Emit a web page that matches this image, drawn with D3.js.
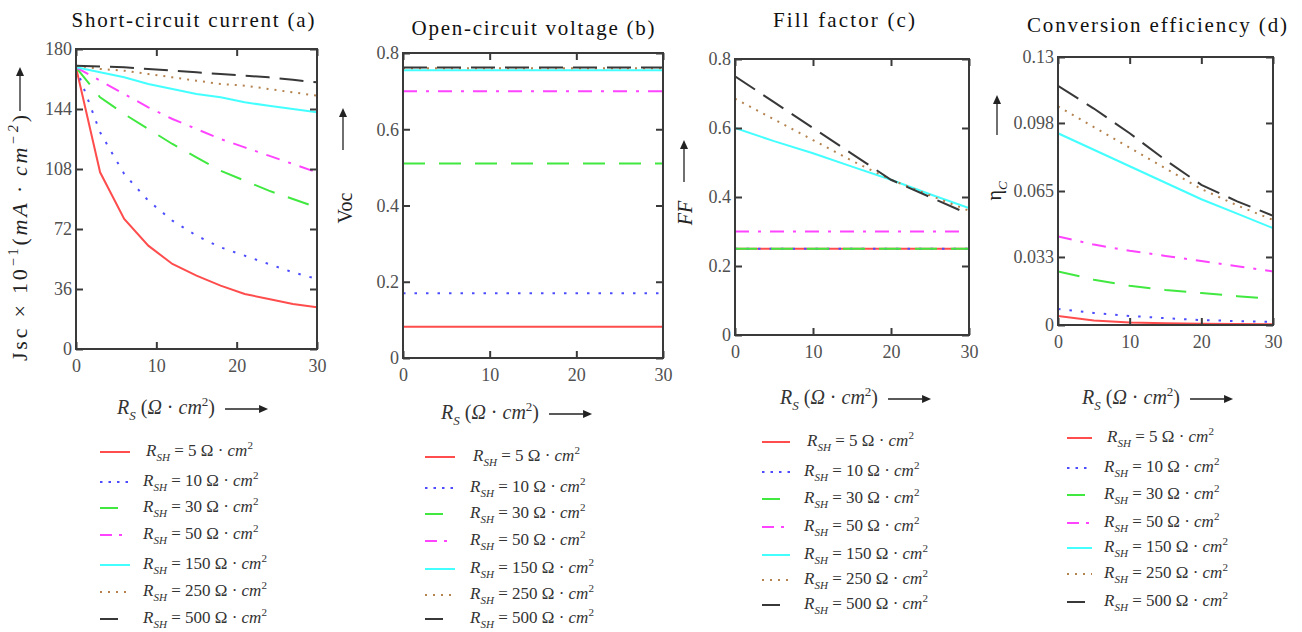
<!DOCTYPE html>
<html>
<head>
<meta charset="utf-8">
<script src="https://cdn.jsdelivr.net/npm/d3@7"></script>
<style>
  body { margin: 0; background: #fff; }
  svg { display: block; }
</style>
</head>
<body>
<svg id="chart" width="1302" height="632"></svg>
<script>
// Data
const rsA = [0, 3, 6, 9, 12, 15, 18, 21, 24, 27, 30];
const rsB = [0, 30];
const rsCD = [0, 5, 10, 15, 20, 25, 30];
const rshValues = ["5", "10", "30", "50", "150", "250", "500"];

// Jsc x 10^-1 (mA/cm2), one array per Rsh
const jscValues = [
  [169, 106, 78, 62, 51, 44, 38, 33, 30, 27, 25],
  [169, 130, 105, 89, 77, 68, 61, 56, 51, 46, 42],
  [169, 151, 141, 132, 123, 115, 107, 101, 95, 90, 85],
  [169, 161, 153, 145, 138, 132, 126, 121, 116, 111, 106],
  [169, 166, 163, 159, 156, 153, 151, 148, 146, 144, 142],
  [170, 168, 167, 165, 163, 161, 159, 158, 156, 154, 152],
  [170, 169.5, 169, 168, 167, 166, 165, 164, 163, 161.5, 160]
];
// Voc (V), constant with Rs
const vocValues = [
  [0.082, 0.082],
  [0.17, 0.17],
  [0.51, 0.51],
  [0.70, 0.70],
  [0.755, 0.755],
  [0.76, 0.76],
  [0.762, 0.762]
];
// Fill factor
const ffValues = [
  [0.25, 0.25, 0.25, 0.25, 0.25, 0.25, 0.25],
  [0.25, 0.25, 0.25, 0.25, 0.25, 0.25, 0.25],
  [0.25, 0.25, 0.25, 0.25, 0.25, 0.25, 0.25],
  [0.30, 0.30, 0.30, 0.30, 0.30, 0.30, 0.30],
  [0.60, 0.562, 0.527, 0.488, 0.45, 0.408, 0.368],
  [0.685, 0.625, 0.565, 0.505, 0.45, 0.405, 0.36],
  [0.75, 0.675, 0.60, 0.525, 0.45, 0.40, 0.35]
];
// Conversion efficiency
const etaValues = [
  [0.0044, 0.0022, 0.0012, 0.0008, 0.0006, 0.0005, 0.0004],
  [0.0078, 0.0058, 0.0044, 0.0033, 0.0024, 0.0019, 0.0015],
  [0.026, 0.022, 0.019, 0.017, 0.0155, 0.014, 0.0126],
  [0.043, 0.039, 0.036, 0.0335, 0.031, 0.0285, 0.026],
  [0.093, 0.085, 0.077, 0.069, 0.061, 0.054, 0.047],
  [0.106, 0.096, 0.086, 0.076, 0.066, 0.058, 0.051],
  [0.116, 0.105, 0.093, 0.080, 0.068, 0.060, 0.053]
];

const xTicks = [0, 10, 20, 30];
const jscTicks = [0, 36, 72, 108, 144, 180];
const vocTicks = [0, 0.2, 0.4, 0.6, 0.8];
const ffTicks = [0, 0.2, 0.4, 0.6, 0.8];
const etaTicks = [0, 0.033, 0.065, 0.098, 0.13];

const titles = ["Short-circuit current (a)", "Open-circuit voltage (b)", "Fill factor (c)", "Conversion efficiency (d)"];

// Styles
const colors = ["#ff4d4d", "#4d4dff", "#40e840", "#ff44ff", "#44ffff", "#b5834f", "#383838"];
const dashes = [null, "2.5,9", "22,14", "14,9,3,9", null, "2,6", "24,10"];
const legendDashes = [null, "2.5,6", "18,30", "12,7,3,30", null, "2,6", "18,30"];

const svg = d3.select("#chart");
const serif = "'Liberation Serif', 'Times New Roman', serif";

// text with italics / sub / sup parts
function mathText(sel, parts, size) {
  let cur = 0;
  parts.forEach(p => {
    const shift = p.sub ? size * 0.3 : p.sup ? -size * 0.4 : 0;
    sel.append("tspan")
      .attr("dy", shift - cur)
      .style("font-style", p.i ? "italic" : "normal")
      .style("font-size", (p.sub || p.sup) ? size * 0.65 + "px" : size + "px")
      .text(p.t);
    cur = shift;
  });
  return sel;
}

function arrow(x1, y1, x2, y2) {
  const a = Math.atan2(y2 - y1, x2 - x1);
  const L = 9, W = 4;
  svg.append("line")
    .attr("x1", x1).attr("y1", y1)
    .attr("x2", x2 - Math.cos(a) * L).attr("y2", y2 - Math.sin(a) * L)
    .attr("stroke", "#222").attr("stroke-width", 1.3);
  const bx = x2 - Math.cos(a) * L, by = y2 - Math.sin(a) * L;
  svg.append("path")
    .attr("d", `M${x2},${y2}L${bx - Math.sin(a) * W},${by + Math.cos(a) * W}L${bx + Math.sin(a) * W},${by - Math.cos(a) * W}Z`)
    .attr("fill", "#222");
}

const rsParts = [
  {t: "R", i: true}, {t: "S", i: true, sub: true}, {t: " ("}, {t: "Ω", i: true},
  {t: "  · "}, {t: "cm", i: true}, {t: "2", sup: true}, {t: ")"}
];

const panels = [
  {rs: rsA, values: jscValues, ticks: jscTicks, tickLabels: ["0", "36", "72", "108", "144", "180"],
   left: 76, right: 317, top: 49, bottom: 349,
   title: {x: 193, y: 27, w: 243},
   xlab: {x: 117, y: 414},
   ylab: {parts: [{t: "Jsc × 10"}, {t: "−1", sup: true}, {t: "("}, {t: "mA · cm", i: true}, {t: "−2", sup: true, i: true}, {t: ")"}],
          x: 27, y: 361, anchor: "start", len: 246, arrowTop: 67},
   legend: {x1: 100, x2: 130, tx: 143, ys: [452, 482, 508, 535, 565, 592, 619]}},
  {rs: rsB, values: vocValues, ticks: vocTicks, tickLabels: ["0", "0.2", "0.4", "0.6", "0.8"],
   left: 403, right: 663, top: 53, bottom: 358,
   title: {x: 533, y: 35, w: 243},
   xlab: {x: 441, y: 419},
   ylab: {parts: [{t: "Voc"}], x: 352, y: 208, anchor: "middle", arrow: [343, 150, 108]},
   legend: {x1: 425, x2: 455, tx: 470, ys: [457, 488, 514, 541, 569, 595, 619]}},
  {rs: rsCD, values: ffValues, ticks: ffTicks, tickLabels: ["0", "0.2", "0.4", "0.6", "0.8"],
   left: 735, right: 969, top: 59, bottom: 335,
   title: {x: 844, y: 27, w: 142},
   xlab: {x: 780, y: 404},
   ylab: {parts: [{t: "FF", i: true}], x: 692, y: 213, anchor: "middle", arrow: [684, 182, 140]},
   legend: {x1: 762, x2: 790, tx: 804, ys: [442, 472, 499, 527, 555, 580, 605]}},
  {rs: rsCD, values: etaValues, ticks: etaTicks, tickLabels: ["0", "0.033", "0.065", "0.098", "0.13"],
   left: 1058, right: 1273, top: 57, bottom: 325,
   title: {x: 1157, y: 32, w: 260},
   xlab: {x: 1082, y: 404},
   ylab: {parts: [{t: "η"}, {t: "C", i: true, sub: true}], x: 1001, y: 191, anchor: "middle", arrow: [997, 135, 95]},
   legend: {x1: 1067, x2: 1092, tx: 1104, ys: [438, 468, 495, 523, 548, 574, 602]}}
];

panels.forEach((p, k) => {
  const x = d3.scaleLinear().domain([0, 30]).range([p.left, p.right]);
  const y = d3.scaleLinear().domain([p.ticks[0], p.ticks[p.ticks.length - 1]]).range([p.bottom, p.top]);

  const clipId = "clip" + k;
  svg.append("clipPath").attr("id", clipId)
    .append("rect")
    .attr("x", p.left).attr("y", p.top)
    .attr("width", p.right - p.left).attr("height", p.bottom - p.top);

  // curves
  const line = d3.line().x((d, i) => x(p.rs[i])).y(d => y(d));
  const g = svg.append("g").attr("clip-path", `url(#${clipId})`);
  p.values.forEach((vals, s) => {
    g.append("path")
      .datum(vals)
      .attr("d", line)
      .attr("fill", "none")
      .attr("stroke", colors[s])
      .attr("stroke-width", 2)
      .attr("stroke-dasharray", dashes[s]);
  });

  // axes with inward ticks on all four sides
  const fmt = (d, i) => p.tickLabels[i];
  const left = svg.append("g").attr("transform", `translate(${p.left},0)`)
    .call(d3.axisLeft(y).tickValues(p.ticks).tickFormat(fmt).tickSizeInner(-7).tickSizeOuter(0).tickPadding(4));
  svg.append("g").attr("transform", `translate(${p.right},0)`)
    .call(d3.axisRight(y).tickValues(p.ticks).tickFormat("").tickSizeInner(-7).tickSizeOuter(0));
  const bottom = svg.append("g").attr("transform", `translate(0,${p.bottom})`)
    .call(d3.axisBottom(x).tickValues(xTicks).tickSizeInner(-7).tickSizeOuter(0).tickPadding(10));
  svg.append("g").attr("transform", `translate(0,${p.top})`)
    .call(d3.axisTop(x).tickValues(xTicks).tickFormat("").tickSizeInner(-7).tickSizeOuter(0));
  svg.selectAll(".domain").remove();
  svg.selectAll(".tick line").attr("stroke", "#3a3a3a").attr("stroke-width", 2);
  [left, bottom].forEach(a => a.selectAll("text")
    .style("font-family", serif).style("font-size", "18px").attr("fill", "#505050"));

  svg.append("rect")
    .attr("x", p.left).attr("y", p.top)
    .attr("width", p.right - p.left).attr("height", p.bottom - p.top)
    .attr("fill", "none").attr("stroke", "#3a3a3a").attr("stroke-width", 2);

  // title
  svg.append("text")
    .attr("x", p.title.x).attr("y", p.title.y)
    .attr("text-anchor", "middle")
    .attr("textLength", p.title.w).attr("lengthAdjust", "spacing")
    .style("font-family", serif).style("font-size", "21px").attr("fill", "#111")
    .text(titles[k]);

  // x label with arrow
  const xl = svg.append("text").attr("x", p.xlab.x).attr("y", p.xlab.y)
    .style("font-family", serif).attr("fill", "#333");
  mathText(xl, rsParts, 20);
  const xw = xl.node().getBBox().width;
  arrow(p.xlab.x + xw + 9, p.xlab.y - 5, p.xlab.x + xw + 52, p.xlab.y - 5);

  // y label with arrow
  const yl = svg.append("text")
    .attr("transform", `translate(${p.ylab.x},${p.ylab.y}) rotate(-90)`)
    .attr("text-anchor", p.ylab.anchor)
    .style("font-family", serif).attr("fill", "#222");
  mathText(yl, p.ylab.parts, p.ylab.len ? 22 : 20);
  if (p.ylab.len) {
    yl.attr("textLength", p.ylab.len).attr("lengthAdjust", "spacing");
    arrow(p.ylab.x - 7, p.ylab.y - p.ylab.len - 4, p.ylab.x - 7, p.ylab.arrowTop);
  } else {
    arrow(p.ylab.arrow[0], p.ylab.arrow[1], p.ylab.arrow[0], p.ylab.arrow[2]);
  }

  // legend
  rshValues.forEach((v, s) => {
    const ly = p.legend.ys[s];
    svg.append("line")
      .attr("x1", p.legend.x1).attr("x2", p.legend.x2)
      .attr("y1", ly).attr("y2", ly)
      .attr("stroke", colors[s]).attr("stroke-width", 2)
      .attr("stroke-dasharray", legendDashes[s]);
    const t = svg.append("text")
      .attr("x", p.legend.tx + (s === 0 ? 3 : 0)).attr("y", ly + 4)
      .style("font-family", serif).attr("fill", "#333");
    mathText(t, [{t: "R", i: true}, {t: "SH", i: true, sub: true}, {t: " = " + v + " Ω  · "}, {t: "cm", i: true}, {t: "2", sup: true}], 17);
  });
});
</script>
</body>
</html>
